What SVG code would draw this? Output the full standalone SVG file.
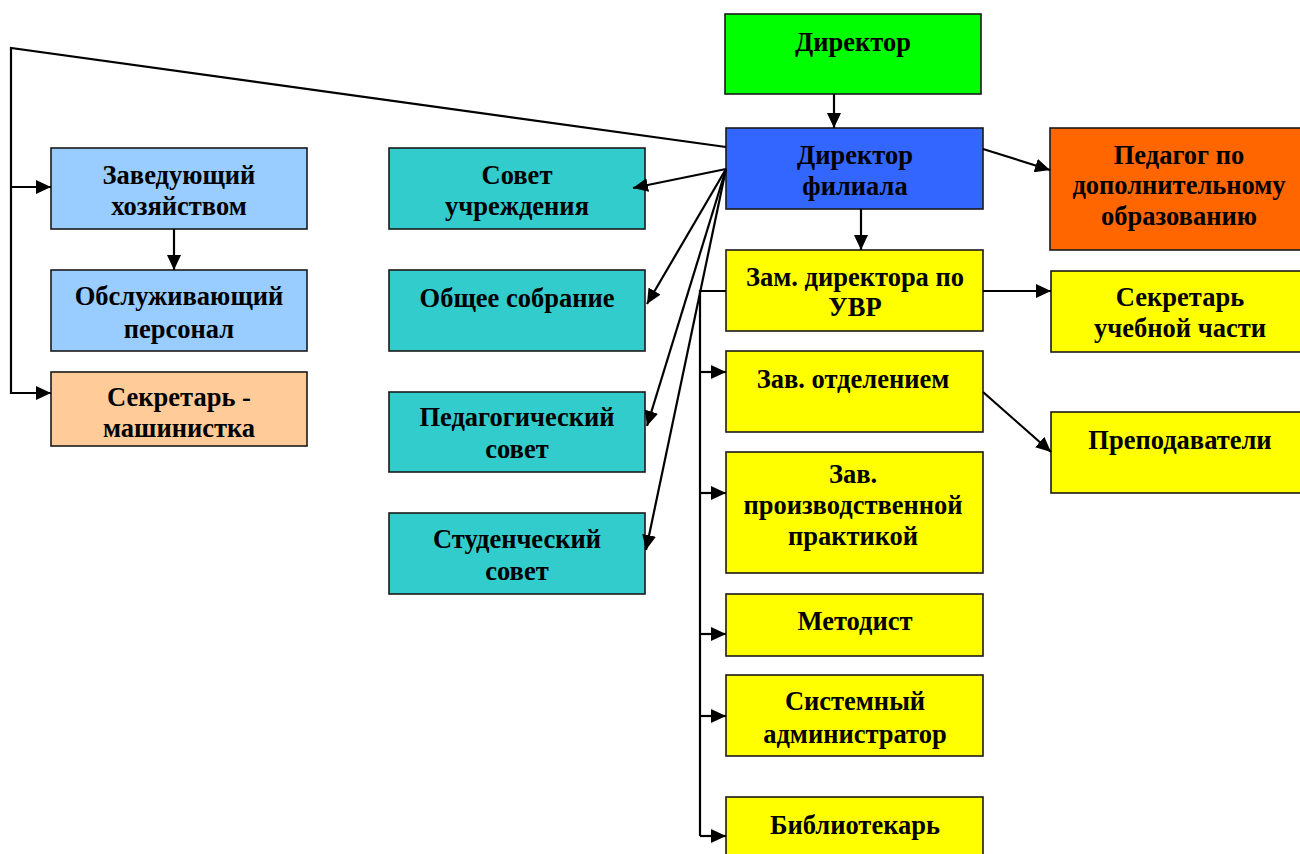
<svg xmlns="http://www.w3.org/2000/svg" width="1300" height="854" viewBox="0 0 1300 854">
<defs>
<marker id="a" viewBox="0 0 15 14" refX="15" refY="7" markerWidth="15" markerHeight="14" markerUnits="userSpaceOnUse" orient="auto"><path d="M0,0 L15,7 L0,14 z" fill="#000"/></marker>
</defs>
<style>
rect{stroke:#1a1a1a;stroke-width:1.6}
text{font-family:"Liberation Serif","Times New Roman",serif;font-weight:bold;font-size:26.5px;fill:#000;text-anchor:middle}
.c line,.c polyline{stroke:#000;stroke-width:2.2;fill:none}
.g{fill:#00ff00}.b{fill:#3366ff}.y{fill:#ffff00}.o{fill:#ff6600}.lb{fill:#99ccff}.p{fill:#ffcc99}.t{fill:#33cccc}
</style>
<rect width="1300" height="854" fill="#fff" style="stroke:none"/>
<g id="director"><rect class="g" x="725" y="14" width="256" height="80"/><text x="853" y="51">Директор</text></g>
<g id="director-filiala"><rect class="b" x="726" y="128" width="257" height="81"/><text x="855" y="164">Директор</text><text x="855" y="195">филиала</text></g>
<g id="pedagog-dop"><rect class="o" x="1050" y="128" width="252" height="122"/><text x="1179" y="164">Педагог по</text><text x="1179" y="194">дополнительному</text><text x="1179" y="225">образованию</text></g>
<g id="zam-uvr"><rect class="y" x="726" y="250" width="257" height="81"/><text x="855" y="286">Зам. директора по</text><text x="855" y="316">УВР</text></g>
<g id="sekr-uch"><rect class="y" x="1051" y="271" width="251" height="81"/><text x="1180" y="306">Секретарь</text><text x="1180" y="337">учебной части</text></g>
<g id="zav-otd"><rect class="y" x="726" y="351" width="257" height="81"/><text x="853" y="388">Зав. отделением</text></g>
<g id="prepod"><rect class="y" x="1051" y="412" width="251" height="81"/><text x="1180" y="449">Преподаватели</text></g>
<g id="zav-praktika"><rect class="y" x="726" y="452" width="257" height="121"/><text x="853" y="483">Зав.</text><text x="853" y="514">производственной</text><text x="853" y="545">практикой</text></g>
<g id="metodist"><rect class="y" x="726" y="594" width="257" height="62"/><text x="855" y="630">Методист</text></g>
<g id="sysadmin"><rect class="y" x="726" y="675" width="257" height="81"/><text x="855" y="710">Системный</text><text x="855" y="743">администратор</text></g>
<g id="bibliotekar"><rect class="y" x="726" y="797" width="257" height="70"/><text x="855" y="834">Библиотекарь</text></g>
<g id="zav-hoz"><rect class="lb" x="51" y="148" width="256" height="81"/><text x="179" y="184">Заведующий</text><text x="179" y="215">хозяйством</text></g>
<g id="obsl"><rect class="lb" x="51" y="270" width="256" height="81"/><text x="179" y="305">Обслуживающий</text><text x="179" y="338">персонал</text></g>
<g id="sekr-mash"><rect class="p" x="51" y="372" width="256" height="74"/><text x="179" y="406">Секретарь -</text><text x="179" y="437">машинистка</text></g>
<g id="sovet-uchr"><rect class="t" x="389" y="148" width="256" height="81"/><text x="517" y="184">Совет</text><text x="517" y="215">учреждения</text></g>
<g id="obshee"><rect class="t" x="389" y="270" width="256" height="81"/><text x="517" y="307">Общее собрание</text></g>
<g id="ped-sovet"><rect class="t" x="389" y="392" width="256" height="80"/><text x="517" y="426">Педагогический</text><text x="517" y="458">совет</text></g>
<g id="stud-sovet"><rect class="t" x="389" y="513" width="256" height="81"/><text x="517" y="548">Студенческий</text><text x="517" y="580">совет</text></g>
<g class="c" id="connectors">
<line x1="834" y1="94" x2="834" y2="128" marker-end="url(#a)"/>
<line x1="861" y1="209" x2="861" y2="250" marker-end="url(#a)"/>
<polyline points="726,147 11,48 11,393 51,393" marker-end="url(#a)"/>
<line x1="11" y1="187" x2="51" y2="187" marker-end="url(#a)"/>
<line x1="174" y1="229" x2="174" y2="270" marker-end="url(#a)"/>
<line x1="726" y1="169" x2="633" y2="188" marker-end="url(#a)"/>
<line x1="726" y1="169" x2="647" y2="304" marker-end="url(#a)"/>
<line x1="726" y1="169" x2="647" y2="426" marker-end="url(#a)"/>
<line x1="726" y1="169" x2="646" y2="550" marker-end="url(#a)"/>
<polyline points="726,291 700,291 700,836"/>
<line x1="700" y1="372" x2="726" y2="372" marker-end="url(#a)"/>
<line x1="700" y1="493" x2="726" y2="493" marker-end="url(#a)"/>
<line x1="700" y1="634" x2="726" y2="634" marker-end="url(#a)"/>
<line x1="700" y1="716" x2="726" y2="716" marker-end="url(#a)"/>
<line x1="700" y1="836" x2="726" y2="836" marker-end="url(#a)"/>
<line x1="983" y1="291" x2="1051" y2="291" marker-end="url(#a)"/>
<line x1="983" y1="149" x2="1050" y2="170" marker-end="url(#a)"/>
<line x1="983" y1="392" x2="1051" y2="452" marker-end="url(#a)"/>
</g>
</svg>
